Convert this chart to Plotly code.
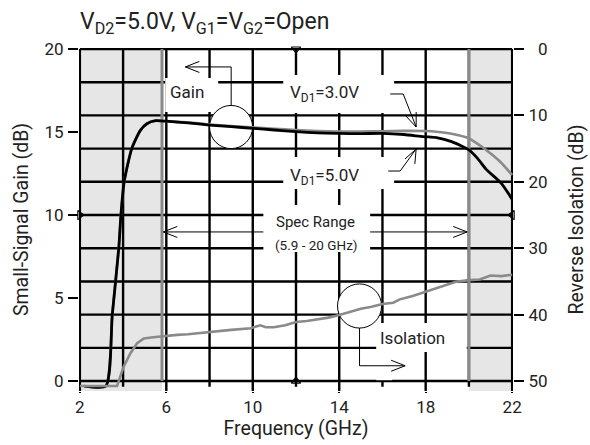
import plotly.graph_objects as go

# ---------------- data ----------------
freq_gain_5v = [2.2, 3.2, 3.5, 3.8, 3.9, 4.05, 4.4, 4.8, 5.1, 5.5, 6.0, 7.0, 8.0, 9.0, 10.0,
                11.0, 12.0, 13.0, 14.0, 15.0, 16.0, 17.0, 17.9, 18.5, 19.2, 20.0, 20.4, 20.8, 21.5, 22.0]
gain_5v = [-0.3, -0.3, 4.0, 8.0, 10.0, 12.0, 14.0, 15.1, 15.5, 15.68, 15.65, 15.55, 15.42, 15.32, 15.22,
           15.12, 15.02, 14.95, 14.92, 14.9, 14.92, 14.85, 14.72, 14.66, 14.42, 13.92, 13.41, 12.75, 11.91, 10.95]

freq_gain_3v = [2.2, 3.2, 3.5, 3.8, 3.9, 4.05, 4.4, 4.8, 5.1, 5.5, 6.0, 7.0, 8.0, 9.0, 10.0,
                11.0, 12.0, 13.0, 14.0, 15.0, 16.0, 17.0, 18.0, 18.5, 19.2, 20.0, 20.5, 20.8, 21.45, 22.0]
gain_3v = [-0.3, -0.3, 4.0, 8.0, 10.0, 12.0, 14.0, 15.1, 15.5, 15.68, 15.65, 15.58, 15.45, 15.36, 15.28,
           15.2, 15.12, 15.06, 15.03, 15.03, 15.05, 15.07, 15.06, 15.02, 14.9, 14.62, 14.2, 13.92, 13.21, 12.41]

freq_iso = [2.0, 3.0, 3.72, 4.03, 4.34, 4.65, 4.96, 5.4, 5.9, 6.5, 7.0, 7.6, 8.3, 9.0, 9.9, 10.35,
            10.6, 10.97, 11.5, 12.0, 12.5, 13.0, 13.5, 14.0, 14.5, 15.0, 15.5, 16.0, 16.5, 16.8,
            17.4, 18.0, 18.7, 19.4, 20.0, 20.5, 21.0, 21.5, 22.0]
isolation = [50.75, 50.75, 50.75, 47.8, 45.8, 44.3, 43.6, 43.4, 43.2, 43.05, 42.95, 42.75, 42.45, 42.3,
             42.05, 41.6, 41.9, 41.9, 41.6, 41.1, 40.95, 40.7, 40.45, 40.05, 39.6, 39.1, 38.8, 38.4,
             38.2, 37.7, 37.2, 36.55, 35.7, 35.05, 34.8, 34.7, 34.1, 34.2, 34.0]

x_ticks = [2, 6, 10, 14, 18, 22]
x_grid = [4, 8, 12, 16, 20]
gain_ticks = [0, 5, 10, 15, 20]
gain_grid = [0, 2, 4, 6, 8, 10, 12, 14, 16, 18, 20]
iso_ticks = [0, 10, 20, 30, 40, 50]
iso_ticktext = ["\u20070", "10", "20", "30", "40", "50"]
spec_band = [5.8, 20.0]

# ---------------- styling / geometry ----------------
FONT = "Roboto, Liberation Sans, sans-serif"
TXT = "#222222"
GRAY = "#8a8a8a"
SHADE = "#e6e6e6"
X_RANGE = [1.96, 22.04]
Y_RANGE = [-0.6, 20.06]
Y2_RANGE = [50 - 2.5 * Y_RANGE[0], 50 - 2.5 * Y_RANGE[1]]

W, H = 590, 445
L, T = 79, 48
PW, PH = 434, 343
R, B = W - L - PW, H - T - PH
PXX = PW / (X_RANGE[1] - X_RANGE[0])  # px per GHz
PXY = PH / (Y_RANGE[1] - Y_RANGE[0])  # px per dB


def chevron(tip, dx, dy, length=14, half=5.5):
    """open arrow head at tip (data coords) pointing along pixel direction (dx, dy) (dy up)."""
    n = (dx * dx + dy * dy) ** 0.5
    ux, uy = dx / n, dy / n
    px_, py_ = -uy, ux
    bx, by = -ux * length, -uy * length
    p1 = (tip[0] + (bx + px_ * half) / PXX, tip[1] + (by + py_ * half) / PXY)
    p2 = (tip[0] + (bx - px_ * half) / PXX, tip[1] + (by - py_ * half) / PXY)
    return f"M{p1[0]},{p1[1]} L{tip[0]},{tip[1]} L{p2[0]},{p2[1]}"


fig = go.Figure()

fig.add_trace(go.Scatter(x=freq_iso, y=isolation, yaxis="y2", mode="lines",
                         line=dict(color=GRAY, width=2.6), showlegend=False, hoverinfo="skip"))
fig.add_trace(go.Scatter(x=freq_gain_3v, y=gain_3v, mode="lines",
                         line=dict(color=GRAY, width=2.6, shape="spline", smoothing=0.6),
                         showlegend=False, hoverinfo="skip"))
fig.add_trace(go.Scatter(x=freq_gain_5v, y=gain_5v, mode="lines",
                         line=dict(color="black", width=2.8, shape="spline", smoothing=0.6),
                         showlegend=False, hoverinfo="skip"))

# small centre markers on frame
fig.add_trace(go.Scatter(x=[2, 22, 12, 12], y=[10, 10, 20, 0], mode="markers", cliponaxis=False,
                         marker=dict(symbol=["triangle-right-open", "triangle-left-open",
                                             "triangle-down-open", "triangle-up-open"],
                                     size=8, color="black", line=dict(width=1.2)),
                         showlegend=False, hoverinfo="skip"))

shapes = []
# shaded out-of-band regions
shapes.append(dict(type="rect", xref="x", yref="y", x0=2, x1=spec_band[0], y0=Y_RANGE[0], y1=20,
                   fillcolor=SHADE, line=dict(width=0), layer="below"))
shapes.append(dict(type="rect", xref="x", yref="y", x0=spec_band[1], x1=22, y0=Y_RANGE[0], y1=20,
                   fillcolor=SHADE, line=dict(width=0), layer="below"))

# grid
grid_line = dict(color="black", width=2.4)
for g in gain_grid:
    shapes.append(dict(type="line", xref="x", yref="y", x0=2, x1=22, y0=g, y1=g,
                       line=grid_line, layer="below"))
for xv in x_ticks:
    shapes.append(dict(type="line", xref="x", yref="y", x0=xv, x1=xv, y0=Y_RANGE[0], y1=20,
                       line=grid_line, layer="below"))
for xv in x_grid:
    shapes.append(dict(type="line", xref="x", yref="y", x0=xv, x1=xv, y0=-0.35, y1=20,
                       line=grid_line, layer="below"))

# white masks over the grid behind labels
masks = [(5.95, 8.40, 16.2, 18.25), (11.41, 16.54, 16.14, 18.43), (11.41, 16.54, 11.57, 13.49),
         (10.49, 15.43, 7.77, 10.6), (15.71, 19.9, 1.75, 3.49), (15.71, 16.45, 0.05, 1.75)]
for x0, x1, y0, y1 in masks:
    shapes.append(dict(type="rect", xref="x", yref="y", x0=x0, x1=x1, y0=y0, y1=y1,
                       fillcolor="white", line=dict(width=0), layer="below"))

# spec band limit lines
for xv in spec_band:
    shapes.append(dict(type="line", xref="x", yref="y", x0=xv, x1=xv, y0=0, y1=20,
                       line=dict(color=GRAY, width=3), layer="below"))

# circles
shapes.append(dict(type="circle", xref="x", yref="y", x0=8.0, x1=9.99, y0=14.0, y1=16.6,
                   fillcolor="white", line=dict(color="black", width=1), layer="below"))
shapes.append(dict(type="circle", xref="x", yref="y", x0=13.92, x1=15.96, y0=3.19, y1=5.85,
                   fillcolor="white", line=dict(color="black", width=1), layer="below"))

thin = dict(color="black", width=1)
paths = [
    "M9.0,16.6 L9.0,18.92 L6.88,18.92", chevron((6.88, 18.92), -1, 0),
    "M16.36,17.29 L16.96,17.29 L17.56,15.3", chevron((17.56, 15.3), 13, -33),
    "M16.27,12.65 L16.82,12.65 L17.56,13.98", chevron((17.56, 13.98), 16, 32),
    "M10.49,8.98 L5.86,8.98", chevron((5.86, 8.98), -1, 0),
    "M15.43,8.98 L19.92,8.98", chevron((19.92, 8.98), 1, 0),
    "M14.94,3.19 L14.94,0.92 L17.05,0.92", chevron((17.05, 0.92), 1, 0),
]
for p in paths:
    shapes.append(dict(type="path", xref="x", yref="y", path=p, line=thin, layer="above"))

annotations = [
    dict(text="V<sub>D2</sub>=5.0V, V<sub>G1</sub>=V<sub>G2</sub>=Open", xref="paper", yref="paper",
         x=-0.003, y=1.074, xanchor="left", yanchor="middle", showarrow=False,
         font=dict(size=23, color=TXT, family=FONT)),
    dict(text="Gain", x=6.97, y=17.41, showarrow=False, font=dict(size=17, color=TXT, family=FONT)),
    dict(text="V<sub>D1</sub>=3.0V", x=11.64, y=17.3, xanchor="left", showarrow=False,
         font=dict(size=17, color=TXT, family=FONT)),
    dict(text="V<sub>D1</sub>=5.0V", x=11.64, y=12.3, xanchor="left", showarrow=False,
         font=dict(size=17, color=TXT, family=FONT)),
    dict(text="Spec Range", x=12.9, y=9.58, showarrow=False, font=dict(size=15, color=TXT, family=FONT)),
    dict(text="(5.9 - 20 GHz)", x=12.94, y=8.19, showarrow=False, font=dict(size=13.5, color=TXT, family=FONT)),
    dict(text="Isolation", x=17.38, y=2.59, showarrow=False, font=dict(size=17, color=TXT, family=FONT)),
]

fig.update_layout(
    width=W, height=H, margin=dict(l=L, r=R, t=T, b=B),
    paper_bgcolor="white", plot_bgcolor="white",
    font=dict(family=FONT, color=TXT, size=18),
    shapes=shapes, annotations=annotations,
    xaxis=dict(range=X_RANGE, tickvals=x_ticks, ticks="outside", ticklen=1, tickwidth=2, tickcolor="black",
               showgrid=False, zeroline=False, showline=False, automargin=False,
               tickfont=dict(size=17), ticklabelstandoff=0,
               title=dict(text="Frequency (GHz)", font=dict(size=19.5), standoff=1)),
    yaxis=dict(range=Y_RANGE, tickvals=gain_ticks, ticks="outside", ticklen=10, tickwidth=1.5, tickcolor="black",
               showgrid=False, zeroline=False, showline=False, automargin=False,
               tickfont=dict(size=17), ticklabelstandoff=1,
               title=dict(text="Small-Signal Gain (dB)", font=dict(size=19.5), standoff=10)),
    yaxis2=dict(range=Y2_RANGE, overlaying="y", side="right", tickvals=iso_ticks, ticktext=iso_ticktext,
                ticks="outside", ticklen=10, tickwidth=1.5, tickcolor="black",
                showgrid=False, zeroline=False, showline=False, automargin=False,
                tickfont=dict(size=17), ticklabelstandoff=1,
                title=dict(text="Reverse Isolation (dB)", font=dict(size=19.5), standoff=22)),
)

fig.write_html("out.html", config={"displayModeBar": False},
               post_script="document.body.style.margin='0';document.body.style.overflow='hidden';")
